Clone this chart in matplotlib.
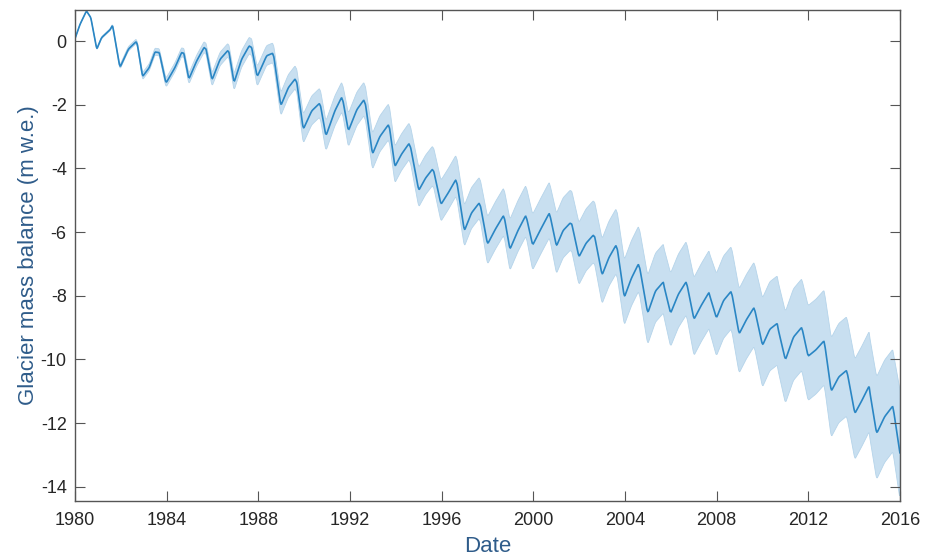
import matplotlib
matplotlib.use('Agg')
import matplotlib.pyplot as plt
from matplotlib.path import Path
from matplotlib.patches import PathPatch
import numpy as np

# trough, mid-rise, peak, start of the drop for each year
dates = [
    1980.00, 1980.22, 1980.50, 1980.69,
    1980.95, 1981.16, 1981.53, 1981.64,
    1981.96, 1982.33, 1982.66, 1982.72,
    1982.95, 1983.24, 1983.49, 1983.68,
    1983.97, 1984.36, 1984.65, 1984.75,
    1984.97, 1985.31, 1985.63, 1985.72,
    1985.98, 1986.33, 1986.66, 1986.72,
    1986.94, 1987.27, 1987.60, 1987.71,
    1987.95, 1988.36, 1988.62, 1988.68,
    1988.98, 1989.31, 1989.60, 1989.68,
    1989.96, 1990.33, 1990.66, 1990.72,
    1990.95, 1991.34, 1991.63, 1991.70,
    1991.93, 1992.30, 1992.60, 1992.68,
    1992.98, 1993.30, 1993.67, 1993.73,
    1993.96, 1994.25, 1994.57, 1994.65,
    1995.00, 1995.30, 1995.59, 1995.66,
    1995.97, 1996.30, 1996.61, 1996.68,
    1996.99, 1997.30, 1997.63, 1997.70,
    1998.00, 1998.35, 1998.69, 1998.75,
    1998.98, 1999.33, 1999.66, 1999.72,
    1999.97, 2000.33, 2000.69, 2000.75,
    2001.01, 2001.30, 2001.60, 2001.68,
    2001.99, 2002.30, 2002.61, 2002.68,
    2003.00, 2003.30, 2003.60, 2003.67,
    2003.97, 2004.28, 2004.58, 2004.65,
    2004.99, 2005.33, 2005.67, 2005.72,
    2005.99, 2006.33, 2006.66, 2006.72,
    2007.01, 2007.33, 2007.66, 2007.72,
    2007.99, 2008.30, 2008.62, 2008.68,
    2008.98, 2009.30, 2009.62, 2009.68,
    2010.00, 2010.32, 2010.64, 2010.70,
    2011.00, 2011.35, 2011.70, 2011.75,
    2011.99, 2012.33, 2012.68, 2012.74,
    2013.00, 2013.33, 2013.66, 2013.72,
    2014.03, 2014.33, 2014.65, 2014.70,
    2014.98, 2015.33, 2015.68, 2015.74,
    2016.00,
]
mass = [
    0.08, 0.53, 0.95, 0.74,
    -0.25, 0.11, 0.36, 0.50,
    -0.83, -0.25, -0.02, -0.10,
    -1.11, -0.83, -0.34, -0.36,
    -1.32, -0.83, -0.36, -0.38,
    -1.19, -0.62, -0.20, -0.25,
    -1.22, -0.57, -0.30, -0.35,
    -1.30, -0.57, -0.15, -0.20,
    -1.12, -0.46, -0.38, -0.50,
    -2.03, -1.46, -1.19, -1.30,
    -2.77, -2.19, -1.96, -2.05,
    -2.98, -2.19, -1.77, -1.90,
    -2.82, -2.15, -1.85, -2.00,
    -3.55, -3.00, -2.63, -2.75,
    -3.94, -3.55, -3.22, -3.35,
    -4.69, -4.30, -4.03, -4.10,
    -5.13, -4.75, -4.36, -4.50,
    -5.96, -5.40, -5.09, -5.20,
    -6.38, -5.90, -5.49, -5.60,
    -6.54, -5.95, -5.49, -5.60,
    -6.41, -5.90, -5.41, -5.55,
    -6.44, -5.95, -5.72, -5.75,
    -6.78, -6.35, -6.10, -6.15,
    -7.35, -6.80, -6.42, -6.55,
    -8.05, -7.45, -7.01, -7.15,
    -8.55, -7.85, -7.57, -7.75,
    -8.55, -7.95, -7.57, -7.70,
    -8.74, -8.30, -7.90, -8.05,
    -8.70, -8.15, -7.87, -8.00,
    -9.20, -8.75, -8.38, -8.50,
    -9.56, -9.05, -8.87, -9.10,
    -10.02, -9.30, -9.00, -9.10,
    -9.90, -9.70, -9.42, -9.65,
    -11.00, -10.55, -10.35, -10.50,
    -11.70, -11.30, -10.84, -11.10,
    -12.33, -11.80, -11.47, -11.70,
    -12.96,
]
# band half widths for each of the 36 years, plus the last point
err_up = [0.01, 0.03, 0.08, 0.12, 0.15, 0.18, 0.22, 0.27, 0.32, 0.41, 0.47, 0.47,
          0.55, 0.65, 0.64, 0.72, 0.76, 0.80, 0.86, 0.94, 0.97, 1.03, 1.08, 1.14,
          1.18, 1.19, 1.26, 1.31, 1.40, 1.42, 1.49, 1.52, 1.59, 1.68, 1.71, 1.78, 2.00]
err_low = [0.01, 0.03, 0.06, 0.10, 0.13, 0.16, 0.20, 0.25, 0.30, 0.31, 0.44, 0.47,
           0.50, 0.48, 0.51, 0.52, 0.53, 0.49, 0.63, 0.66, 0.78, 0.86, 0.87, 0.90,
           0.87, 0.98, 1.05, 1.14, 1.19, 1.23, 1.31, 1.36, 1.39, 1.44, 1.44, 1.44, 1.44]

year_ticks = [1980, 1984, 1988, 1992, 1996, 2000, 2004, 2008, 2012, 2016]
mass_ticks = [0, -2, -4, -6, -8, -10, -12, -14]


def rounded_path(pts, f=0.12):
    # same vertices, but each corner is drawn as a small quadratic curve
    verts = [pts[0]]
    codes = [Path.MOVETO]
    for i in range(1, len(pts) - 1):
        verts += [pts[i] + f * (pts[i - 1] - pts[i]), pts[i], pts[i] + f * (pts[i + 1] - pts[i])]
        codes += [Path.LINETO, Path.CURVE3, Path.CURVE3]
    verts.append(pts[-1])
    codes.append(Path.LINETO)
    return Path(verts, codes)


plt.rcParams['font.family'] = ['Liberation Sans', 'DejaVu Sans']

fig = plt.figure(figsize=(9.34, 5.58), dpi=100)
ax = fig.add_axes([75 / 934, 1 - 501 / 558, 825 / 934, 491 / 558])

t = np.array(dates)
m = np.array(mass)
up = np.append(np.repeat(err_up[:-1], 4), err_up[-1])
low = np.append(np.repeat(err_low[:-1], 4), err_low[-1])

outline = np.vstack([np.column_stack([t, m + up]),
                     np.column_stack([t, m - low])[::-1]])
ax.add_patch(PathPatch(rounded_path(outline), facecolor='#c8dff0', edgecolor='#b5d4ea', linewidth=0.6))
ax.add_patch(PathPatch(rounded_path(np.column_stack([t, m])), facecolor='none',
                       edgecolor='#2a86c4', linewidth=1.2))

ax.set_xlim(1980, 2016)
ax.set_ylim(-14.45, 0.98)
ax.set_xticks(year_ticks)
ax.set_yticks(mass_ticks)
ax.set_yticklabels([str(v) for v in mass_ticks])
ax.tick_params(direction='in', top=True, right=True, length=7, width=0.8,
               color='#555555', labelsize=13, labelcolor='#262626')
ax.tick_params(axis='x', pad=8)
ax.tick_params(axis='y', pad=6)
for spine in ax.spines.values():
    spine.set_color('#555555')
    spine.set_linewidth(1.0)

ax.set_xlabel('Date', fontsize=16, color='#2f5c8a', labelpad=5)
ax.set_ylabel('Glacier mass balance (m w.e.)', fontsize=16, color='#2f5c8a', labelpad=1)

fig.savefig('out.png', dpi=100)
